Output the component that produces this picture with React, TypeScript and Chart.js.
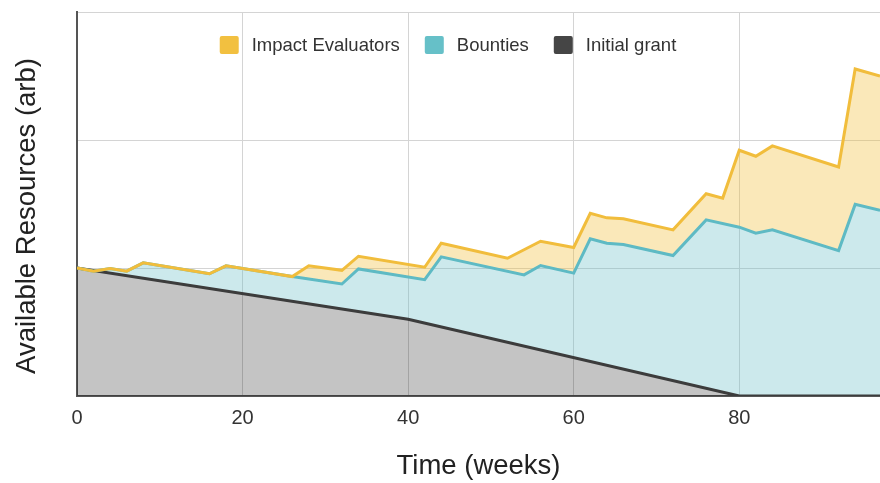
import React, { useEffect, useRef } from "react";
import { Chart, registerables } from "chart.js";

Chart.register(...registerables);

// ---- data ----
const seriesLabels = ["Impact Evaluators", "Bounties", "Initial grant"];
const xTickValues = [0, 20, 40, 60, 80];
const xTitle = "Time (weeks)";
const yTitle = "Available Resources (arb)";

const impactWeeks = [0, 2, 4, 6, 8, 16, 18, 26, 28, 32, 34, 42, 44, 52, 56, 60, 62, 64, 66, 72, 76, 78, 80, 82, 84, 92, 94, 97];
const impactValues = [1.0, 0.975, 0.995, 0.975, 1.04, 0.955, 1.017, 0.933, 1.017, 0.982, 1.092, 1.006, 1.194, 1.076, 1.209, 1.16, 1.427, 1.392, 1.384, 1.298, 1.58, 1.546, 1.92, 1.873, 1.954, 1.789, 2.555, 2.5];

const bountyWeeks = [0, 2, 4, 6, 8, 16, 18, 26, 32, 34, 42, 44, 54, 56, 60, 62, 64, 66, 72, 76, 80, 82, 84, 92, 94, 97];
const bountyValues = [1.0, 0.975, 0.995, 0.975, 1.04, 0.955, 1.017, 0.933, 0.875, 0.993, 0.909, 1.087, 0.946, 1.019, 0.96, 1.228, 1.194, 1.183, 1.097, 1.376, 1.319, 1.272, 1.298, 1.136, 1.497, 1.45];

const grantWeeks = [0, 40, 80, 97];
const grantValues = [1.0, 0.6, 0, 0];

// ---- styles ----
const lineColors = ["#F1BD3C", "#5EBAC4", "#3C3C3C"];
const fillColors = ["rgba(241,190,62,0.36)", "rgba(95,186,196,0.32)", "rgba(0,0,0,0.23)"];
const legendColors = ["#F2C040", "#66C0C8", "#454545"];
const FONT = '"Liberation Sans", Arial, sans-serif';

const toPoints = (xs: number[], ys: number[]) => xs.map((x, i) => ({ x, y: ys[i] }));

const overlayLegend = {
  id: "overlayLegend",
  afterDraw(chart: any) {
    const ctx = chart.ctx as CanvasRenderingContext2D;
    const boxW = 19, boxH = 18, textGap = 13, itemGap = 25, fontSize = 18.5;
    const cx = 448, cy = 45;
    ctx.save();
    ctx.font = `${fontSize}px ${FONT}`;
    const widths = seriesLabels.map((t) => boxW + textGap + ctx.measureText(t).width);
    const total = widths.reduce((a, b) => a + b, 0) + itemGap * (widths.length - 1);
    let x = cx - total / 2;
    seriesLabels.forEach((t, i) => {
      ctx.fillStyle = legendColors[i];
      ctx.beginPath();
      (ctx as any).roundRect(x, cy - boxH / 2, boxW, boxH, 2);
      ctx.fill();
      ctx.fillStyle = "#333333";
      ctx.textBaseline = "middle";
      ctx.textAlign = "left";
      ctx.fillText(t, x + boxW + textGap, cy + 1);
      x += widths[i] + itemGap;
    });
    // y-axis title
    ctx.font = `27.5px ${FONT}`;
    ctx.fillStyle = "#222222";
    ctx.textAlign = "center";
    ctx.textBaseline = "middle";
    ctx.translate(27, 216);
    ctx.rotate(-Math.PI / 2);
    ctx.fillText(yTitle, 0, 0);
    ctx.restore();
  },
};

export default function App() {
  const canvasRef = useRef<HTMLCanvasElement | null>(null);

  useEffect(() => {
    if (!canvasRef.current) return;
    Chart.defaults.font.family = FONT;
    const chart = new Chart(canvasRef.current, {
      type: "line",
      data: {
        datasets: [
          {
            label: seriesLabels[0],
            data: toPoints(impactWeeks, impactValues),
            borderColor: lineColors[0],
            backgroundColor: fillColors[0],
            borderWidth: 3,
            pointRadius: 0,
            tension: 0,
            fill: 1,
          },
          {
            label: seriesLabels[1],
            data: toPoints(bountyWeeks, bountyValues),
            borderColor: lineColors[1],
            backgroundColor: fillColors[1],
            borderWidth: 3,
            pointRadius: 0,
            tension: 0,
            fill: 2,
          },
          {
            label: seriesLabels[2],
            data: toPoints(grantWeeks, grantValues),
            borderColor: lineColors[2],
            backgroundColor: fillColors[2],
            borderWidth: 3,
            pointRadius: 0,
            tension: 0,
            fill: "origin",
          },
        ],
      },
      options: {
        animation: false,
        responsive: true,
        maintainAspectRatio: false,
        layout: { padding: { top: 12, left: 0, right: 0, bottom: 0 } },
        plugins: {
          legend: { display: false },
          tooltip: { enabled: false },
          filler: { drawTime: "beforeDatasetsDraw" },
        },
        scales: {
          x: {
            type: "linear",
            min: 0,
            max: 97,
            afterBuildTicks: (axis: any) => {
              axis.ticks = xTickValues.map((v) => ({ value: v }));
            },
            ticks: { color: "#333333", font: { size: 20 }, padding: 10 },
            grid: { color: "#D4D4D4", lineWidth: 1, drawTicks: false },
            border: { color: "#555555", width: 2 },
            title: {
              display: true,
              text: xTitle,
              color: "#222222",
              font: { size: 27.5 },
              padding: { top: 10, bottom: 0 },
            },
          },
          y: {
            type: "linear",
            min: 0,
            max: 3,
            ticks: { display: false, stepSize: 1 },
            grid: { color: "#D4D4D4", lineWidth: 1, drawTicks: false },
            border: { color: "#555555", width: 2 },
            title: { display: false },
            afterFit: (axis: any) => {
              axis.width = 77;
            },
          },
        },
      },
      plugins: [overlayLegend],
    });
    return () => chart.destroy();
  }, []);

  return (
    <div style={{ position: "absolute", left: 0, top: 0, width: 880, height: 483 }}>
      <canvas ref={canvasRef} />
    </div>
  );
}
